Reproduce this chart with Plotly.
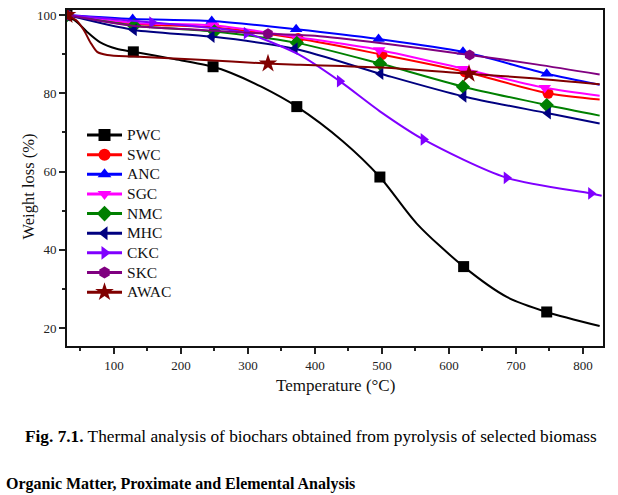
import plotly.graph_objects as go

# ---------------- data ----------------
names = ["PWC", "SWC", "ANC", "SGC", "NMC", "MHC", "CKC", "SKC", "AWAC"]

pwc_t = [30, 45, 60, 79, 104, 129, 188, 248, 275, 320, 373, 442, 497, 552, 622, 687, 746, 825]
pwc_w = [100, 98.2, 95.7, 93.1, 91.4, 90.6, 88.8, 86.8, 85.2, 81.7, 76.6, 67.7, 58.6, 46.7, 35.7, 27.9, 24.1, 20.5]
pwc_m = [30, 129, 248, 373, 497, 622, 746]

swc_t = [30, 130, 250, 375, 500, 624, 748, 825]
swc_w = [100, 97.8, 96.8, 94.0, 89.9, 85.5, 80.0, 78.4]
swc_m = [30, 130, 250, 375, 500, 624, 748]

anc_t = [30, 128, 246, 372, 495, 621, 746, 825]
anc_w = [100, 99.0, 98.5, 96.4, 93.9, 90.6, 85.0, 82.2]
anc_m = [30, 128, 246, 372, 495, 621, 746]

sgc_t = [30, 130, 248, 372, 496, 621, 743, 825]
sgc_w = [100, 98.0, 97.4, 94.4, 91.1, 86.3, 81.4, 79.4]
sgc_m = [30, 130, 248, 372, 496, 621, 743]

nmc_t = [30, 130, 250, 373, 497, 621, 746, 825]
nmc_w = [100, 97.3, 95.8, 92.9, 87.6, 81.7, 77.0, 74.3]
nmc_m = [30, 130, 250, 373, 497, 621, 746]

mhc_t = [30, 130, 246, 370, 498, 622, 748, 825]
mhc_w = [100, 96.2, 94.5, 91.4, 85.0, 79.2, 74.9, 72.3]
mhc_m = [30, 130, 246, 370, 498, 622, 748]

ckc_t = [30, 157, 273, 298, 375, 437, 497, 562, 686, 812, 828]
ckc_w = [100, 98.1, 96.2, 95.4, 90.0, 83.1, 75.4, 68.2, 58.4, 54.4, 53.8]
ckc_m = [30, 157, 298, 437, 562, 686, 812]

skc_t = [30, 130, 230, 330, 400, 500, 631, 730, 825]
skc_w = [100, 97.2, 96.2, 95.2, 94.7, 92.8, 89.8, 87.4, 84.8]
skc_m = [30, 330, 631]

awac_t = [30, 45, 55, 65, 75, 90, 130, 228, 330, 378, 500, 630, 730, 825]
awac_w = [100, 98.5, 96.2, 93.0, 90.6, 89.8, 89.4, 88.6, 87.6, 87.3, 86.6, 85.0, 83.8, 82.3]
awac_m = [30, 330, 630]

x_ticks = [100, 200, 300, 400, 500, 600, 700, 800]
y_ticks = [20, 40, 60, 80, 100]

series = [
    ("PWC", pwc_t, pwc_w, pwc_m, "#000000", "square"),
    ("SWC", swc_t, swc_w, swc_m, "#FF0000", "circle"),
    ("ANC", anc_t, anc_w, anc_m, "#0000FF", "triangle-up"),
    ("SGC", sgc_t, sgc_w, sgc_m, "#FF00FF", "triangle-down"),
    ("NMC", nmc_t, nmc_w, nmc_m, "#008000", "diamond"),
    ("MHC", mhc_t, mhc_w, mhc_m, "#000080", "triangle-left"),
    ("CKC", ckc_t, ckc_w, ckc_m, "#8000FF", "triangle-right"),
    ("SKC", skc_t, skc_w, skc_m, "#800080", "hexagon"),
    ("AWAC", awac_t, awac_w, awac_m, "#800000", "star"),
]

SERIF = "Liberation Serif, Times New Roman, serif"

fig = go.Figure()
for name, t, w, m, col, sym in series:
    fig.add_trace(go.Scatter(x=t, y=w, mode="lines", line=dict(color=col, width=2, shape="spline", smoothing=0.8),
                             showlegend=False, hoverinfo="skip"))
    mx = [tt for tt in t if tt in m]
    my = [ww for tt, ww in zip(t, w) if tt in m]
    msize = 14 if sym == "star" else 11
    fig.add_trace(go.Scatter(x=mx, y=my, mode="markers", marker=dict(color=col, symbol=sym, size=msize, line=dict(width=0)),
                             showlegend=False, name=name))
for name, t, w, m, col, sym in series:
    fig.add_trace(go.Scatter(x=[None], y=[None], mode="lines+markers",
                             name='<span style="font-size:15.5px">' + name + '</span>',
                             line=dict(color=col, width=3),
                             marker=dict(color=col, symbol=sym, size=14 if sym == "star" else 12, line=dict(width=0))))

fig.update_layout(
    width=618, height=495,
    margin=dict(l=67, r=15, t=8, b=149),
    paper_bgcolor="white", plot_bgcolor="white",
    font=dict(family=SERIF, color="#1a1a1a"),
    showlegend=True,
    legend=dict(x=0.028, y=0.672, xanchor="left", yanchor="top", bgcolor="rgba(0,0,0,0)",
                font=dict(family=SERIF, size=12.8, color="#111"), tracegroupgap=0, itemwidth=35),
    xaxis=dict(range=[30, 830], tickvals=x_ticks, ticks="outside", ticklen=6, tickwidth=1.5, tickcolor="#222",
               minor=dict(dtick=50, tick0=0, ticks="outside", ticklen=3, tickwidth=1.5, tickcolor="#222"),
               showline=True, linewidth=2, linecolor="#111", mirror=True, showgrid=False, zeroline=False,
               tickfont=dict(family=SERIF, size=13, color="#222")),
    yaxis=dict(range=[15.4, 101.3], tickvals=y_ticks, ticks="outside", ticklen=6, tickwidth=1.5, tickcolor="#222",
               minor=dict(dtick=10, tick0=0, ticks="outside", ticklen=3, tickwidth=1.5, tickcolor="#222"),
               showline=True, linewidth=2, linecolor="#111", mirror=True, showgrid=False, zeroline=False,
               tickfont=dict(family=SERIF, size=13, color="#222")),
    annotations=[
        dict(text="Weight loss (%)", xref="paper", yref="paper", x=-0.072, y=0.476, xanchor="center", yanchor="middle",
             textangle=-90, showarrow=False, font=dict(family=SERIF, size=16.5, color="#111")),
        dict(text="Temperature (°C)", xref="paper", yref="paper", x=0.5, y=-0.083, xanchor="center", yanchor="top",
             showarrow=False, font=dict(family=SERIF, size=17, color="#111")),
        dict(text="<b>Fig. 7.1.</b> Thermal analysis of biochars obtained from pyrolysis of selected biomass",
             xref="paper", yref="paper", x=0.455, y=-0.268, xanchor="center", yanchor="middle",
             showarrow=False, font=dict(family=SERIF, size=17.3, color="#000")),
        dict(text="<b>Organic Matter, Proximate and Elemental Analysis</b>",
             xref="paper", yref="paper", x=-0.118, y=-0.378, xanchor="left", yanchor="top",
             showarrow=False, font=dict(family=SERIF, size=16, color="#000")),
    ],
)

fig.write_html("out.html")
